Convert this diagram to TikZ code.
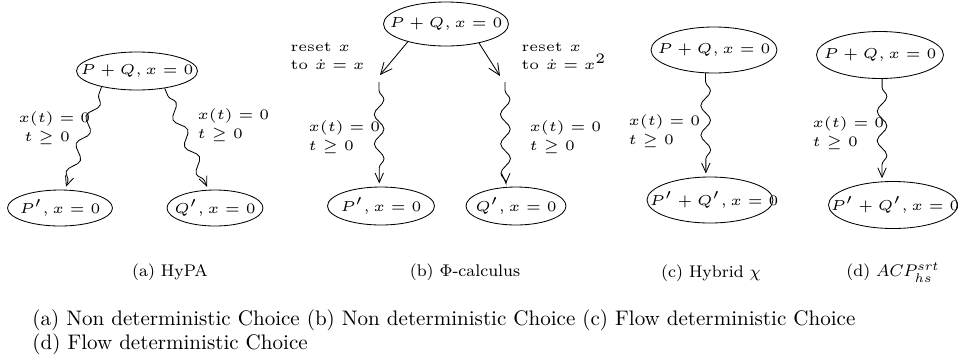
\documentclass[tikz,border=0pt]{standalone}
\usetikzlibrary{shapes.geometric,decorations.pathmorphing,arrows.meta}
\newcommand\etxt[1]{\scalebox{1.37}{\tiny #1}}
\begin{document}
\begin{tikzpicture}[x=0.475pt, y=-0.475pt,
  ell/.style 2 args={draw, ellipse, inner sep=0pt, minimum width=#1*0.475pt, minimum height=#2*0.475pt},
  snk/.style={-{Straight Barb[length=4.5pt,width=4pt]}, decorate,
    decoration={snake, amplitude=2.3pt, segment length=14pt, pre length=4pt, post length=2pt}, shorten >=1.5pt},
  arr/.style={-{Straight Barb[length=5.5pt,width=5pt]}},
  lbl/.style={anchor=west, align=left, inner sep=0pt, scale=1.37, transform shape, font=\fontsize{5}{6.6}\selectfont},
  rlbl/.style={lbl, font=\fontsize{5}{6.1}\selectfont},
  sub/.style={anchor=base, inner sep=0pt, font=\footnotesize},
  captxt/.style={anchor=base west, inner sep=0pt}]
\useasboundingbox (0,0) rectangle (958,361);

% (a) HyPA
\node[ell={121}{38}] (a0) at (137,71) {\makebox[0pt]{\etxt{$P+Q, x=0$}}};
\node[ell={105}{36}] (a1) at (60,208) {\makebox[0pt]{\etxt{$P', x=0$}}};
\node[ell={96}{36}] (a2) at (215,208) {\makebox[0pt]{\etxt{$Q', x=0$}}};
\draw[snk] (a0.204) -- (a1.75);
\draw[snk] (a0.328) -- (a2.110);
\node[lbl] (la1) at (18,128) {$x(t)=0$\\$\;t\geq 0$};
\node[lbl] (la2) at (197,125) {$x(t)=0$\\$t\geq 0$};

% (b) Phi-calculus
\node[ell={125}{44}] (b0) at (446,24) {\makebox[0pt]{\etxt{$P+Q, x=0$}}};
\node[ell={107}{38}] (b1) at (381,206) {\makebox[0pt]{\etxt{$P', x=0$}}};
\node[ell={100}{38}] (b2) at (516,206) {\makebox[0pt]{\etxt{$Q', x=0$}}};
\coordinate (bl1) at (380,75);
\coordinate (bl2) at (379,82);
\coordinate (br1) at (500,76);
\coordinate (br2) at (505,82);
\draw[arr] (b0.205) -- (bl1);
\draw[arr] (b0.330) -- (br1);
\draw[snk] (bl2) -- (b1.95);
\draw[snk] (br2) -- (b2.118);
\node[rlbl] (lb1) at (290,56) {reset $x$\\to $\dot{x}=x$};
\node[rlbl] (lb2) at (521,56) {reset $x$\\to $\dot{x}=x^2$};
\node[lbl] (lb3) at (308,137) {$x(t)=0$\\$t\geq 0$};
\node[lbl] (lb4) at (529,137) {$x(t)=0$\\$t\geq 0$};

% (c) Hybrid chi
\node[ell={126}{46}] (c0) at (714,50) {\makebox[0pt]{\etxt{$P+Q, x=0$}}};
\node[ell={126}{46}] (c1) at (710,200) {\makebox[0pt]{\hspace{4pt}\etxt{$P'+Q', x=0$}}};
\draw[snk] (c0.250) -- (c1.100);
\node[lbl] (lc1) at (628,131) {$x(t)=0$\\$t\geq 0$};

% (d) ACP
\node[ell={127}{47}] (d0) at (880,55) {\makebox[0pt]{\etxt{$P+Q, x=0$}}};
\node[ell={129}{47}] (d1) at (893,205) {\makebox[0pt]{\hspace{2pt}\etxt{$P'+Q', x=0$}}};
\draw[snk] (d0.275) -- (d1.115);
\node[lbl] (ld1) at (812,133) {$x(t)=0$\\$t\geq 0$};

% sub-captions
\node[sub] (sa) at (170,276) {(a) HyPA};
\node[sub] (sb) at (465,276) {(b) $\Phi$-calculus};
\node[sub] (sc) at (711,277) {(c) Hybrid $\chi$};
\node[sub] (sd) at (893,276) {(d) $ACP^{srt}_{hs}$};

% caption
\node[captxt] (cap1) at (32,325) {(a) Non deterministic Choice (b) Non deterministic Choice (c) Flow deterministic Choice};
\node[captxt] (cap2) at (32,349) {(d) Flow deterministic Choice};
\end{tikzpicture}
\end{document}
